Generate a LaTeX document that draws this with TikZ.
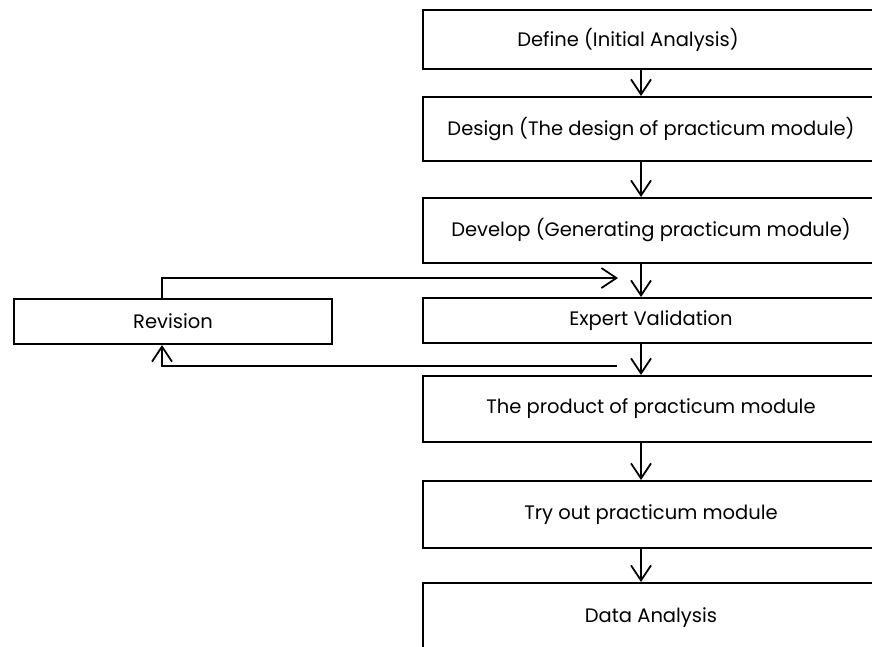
\documentclass[tikz,border=0pt]{standalone}
\usepackage{fontspec}
\setmainfont{Poppins}
\usetikzlibrary{arrows.meta}
\begin{document}
\begin{tikzpicture}[x=1pt,y=-1pt,
  box/.style={draw=black, line width=2pt, anchor=north west, minimum width=456pt,
    inner sep=0pt, font=\fontsize{19.5}{22}\selectfont},
  arr/.style={line width=1.8pt, -{Straight Barb[length=15pt,width=20pt,line width=1.8pt]}},
  fb/.style={line width=1.8pt}]
\clip (0,0) rectangle (872,646);
\fill[white] (0,0) rectangle (872,646);
\coordinate (col) at (641,0);
\node[box, minimum height=59pt] (b1) at (422,9) {Define (Initial Analysis)\hspace*{46pt}};
\node[box, minimum height=64pt] (b2) at (422,96) {Design (The design of practicum module)};
\node[box, minimum height=65pt] (b3) at (422,197) {Develop (Generating practicum module)};
\node[box, minimum height=45pt] (b4) at (422,297) {Expert Validation};
\node[box, minimum height=66pt] (b5) at (422,375) {The product of practicum module};
\node[box, minimum height=67pt] (b6) at (422,480) {Try out practicum module};
\node[box, minimum height=130pt] (b7) at (422,582) {\raisebox{0pt}[0pt][0pt]{\smash{\raisebox{26pt}{Data Analysis}}}};
\node[box, minimum width=318pt, minimum height=45pt] (rev) at (13,298) {Revision};
\draw[arr] (b1.south -| col) -- (b2.north -| col);
\draw[arr] (b2.south -| col) -- (b3.north -| col);
\draw[arr] (b3.south -| col) -- (b4.north -| col);
\draw[arr] (b4.south -| col) -- (b5.north -| col);
\draw[arr] (b5.south -| col) -- (b6.north -| col);
\draw[arr] (b6.south -| col) -- (b7.north -| col);
\coordinate (tin) at (618,278);
\coordinate (bout) at (617,366);
\coordinate (rx) at (162,0);
\draw[arr] (rev.north -| rx) |- (tin);
\draw[arr] (bout) -| (rev.south -| rx);
\end{tikzpicture}
\end{document}
